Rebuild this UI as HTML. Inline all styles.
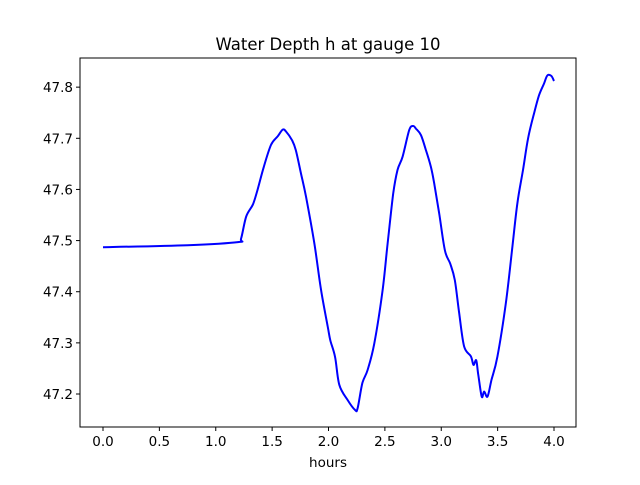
<!DOCTYPE html>
<html><head><meta charset="utf-8"><style>body{margin:0;background:#fff}svg text{font-family:"DejaVu Sans","Liberation Sans",sans-serif}</style></head>
<body>
<svg id="chart" width="640" height="480" xmlns="http://www.w3.org/2000/svg">
<rect width="640" height="480" fill="#fff"/>
<text x="328" y="50" text-anchor="middle" font-size="16.5">Water Depth h at gauge 10</text>
<text x="328" y="467" text-anchor="middle" font-size="13.5">hours</text>
<g id="ticks"></g>
<path id="series" fill="none" stroke="#0000ff" stroke-width="2" stroke-linejoin="round"/>
<rect x="80" y="58" width="496" height="369" fill="none" stroke="#000" stroke-width="1"/>
</svg>
<script>
const hours=[0,0.75,1.196,1.225,1.27,1.33,1.37,1.426,1.49,1.55,1.594,1.624,1.677,1.71,1.756,1.80,1.875,1.934,1.993,2.016,2.058,2.096,2.17,2.235,2.258,2.30,2.347,2.406,2.48,2.524,2.574,2.612,2.657,2.716,2.751,2.775,2.82,2.864,2.908,2.937,2.982,3.032,3.079,3.12,3.159,3.203,3.262,3.286,3.31,3.327,3.359,3.38,3.41,3.445,3.498,3.572,3.631,3.675,3.725,3.77,3.823,3.867,3.911,3.941,3.976,4.0];
const depth=[47.487,47.491,47.497,47.504,47.547,47.571,47.599,47.644,47.687,47.704,47.717,47.713,47.696,47.677,47.631,47.586,47.494,47.403,47.332,47.305,47.273,47.218,47.188,47.169,47.172,47.221,47.247,47.299,47.403,47.494,47.592,47.638,47.664,47.716,47.724,47.719,47.706,47.677,47.644,47.612,47.553,47.481,47.455,47.423,47.358,47.293,47.274,47.257,47.266,47.24,47.195,47.205,47.195,47.227,47.273,47.377,47.488,47.573,47.638,47.70,47.749,47.784,47.807,47.823,47.822,47.812];
const xTicks=[0,0.5,1.0,1.5,2.0,2.5,3.0,3.5,4.0];
const yTicks=[47.2,47.3,47.4,47.5,47.6,47.7,47.8];
const xMin=-0.204,xMax=4.195,yMin=47.1355,yMax=47.857;
const L=80,R=576,T=58,B=427;
function sx(v){return L+(v-xMin)/(xMax-xMin)*(R-L);}
function sy(v){return B-(v-yMin)/(yMax-yMin)*(B-T);}
const ns="http://www.w3.org/2000/svg";
const g=document.getElementById('ticks');
xTicks.forEach(t=>{
 const l=document.createElementNS(ns,'line');
 
 
 l.setAttribute('x1',sx(t));l.setAttribute('x2',sx(t));l.setAttribute('y1',B);l.setAttribute('y2',B+4);l.setAttribute('stroke','#000');g.appendChild(l);
 const tx=document.createElementNS(ns,'text');
 
 
 tx.setAttribute('x',sx(t));tx.setAttribute('y',B+19);tx.setAttribute('text-anchor','middle');tx.setAttribute('font-size','13.5');tx.textContent=t.toFixed(1);g.appendChild(tx);
});
yTicks.forEach(t=>{
 const l=document.createElementNS(ns,'line');
 
 
 l.setAttribute('x1',L-4);l.setAttribute('x2',L);l.setAttribute('y1',sy(t));l.setAttribute('y2',sy(t));l.setAttribute('stroke','#000');g.appendChild(l);
 const tx=document.createElementNS(ns,'text');
 
 
 tx.setAttribute('x',L-7);tx.setAttribute('y',sy(t)+5);tx.setAttribute('text-anchor','end');tx.setAttribute('font-size','13.5');tx.textContent=t.toFixed(1);g.appendChild(tx);
});
const P=hours.map((h,i)=>[sx(h),sy(depth[i])]);
let d='M'+P[0][0].toFixed(1)+','+P[0][1].toFixed(1);
for(let i=0;i<P.length-1;i++){
 const p0=P[Math.max(i-1,0)],p1=P[i],p2=P[i+1],p3=P[Math.min(i+2,P.length-1)];
 const c1=[p1[0]+(p2[0]-p0[0])/6,p1[1]+(p2[1]-p0[1])/6];
 const c2=[p2[0]-(p3[0]-p1[0])/6,p2[1]-(p3[1]-p1[1])/6];
 d+='C'+c1[0].toFixed(1)+','+c1[1].toFixed(1)+' '+c2[0].toFixed(1)+','+c2[1].toFixed(1)+' '+p2[0].toFixed(1)+','+p2[1].toFixed(1);
}
document.getElementById('series').setAttribute('d',d);
</script>
</body></html>
